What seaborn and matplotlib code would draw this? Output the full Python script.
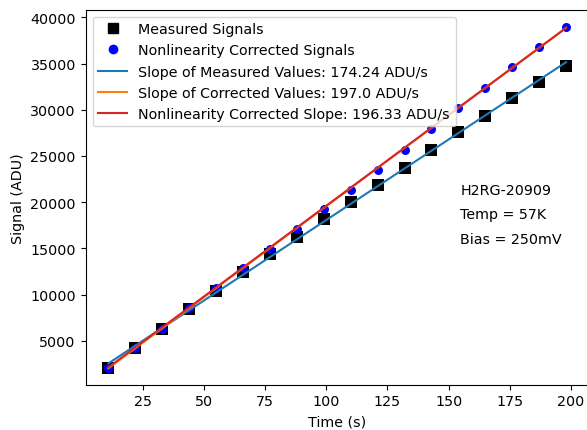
import numpy as np
import pandas as pd
import matplotlib
matplotlib.use("Agg")
import matplotlib.pyplot as plt
import seaborn as sns
from matplotlib.lines import Line2D

# Frame times (s)
times = [11, 22, 33, 44, 55, 66, 77, 88, 99, 110, 121, 132, 143, 154, 165, 176, 187, 198]

# Raw ramp signal (ADU)
measured = [2090, 4250, 6290, 8400, 10400, 12430, 14350, 16290, 18200, 20050,
            21890, 23700, 25630, 27560, 29370, 31280, 33020, 34710]

# Signal after nonlinearity correction (ADU)
corrected = [2100, 4270, 6330, 8530, 10700, 12860, 14980, 17120, 19250, 21350,
             23480, 25610, 27920, 30160, 32370, 34600, 36770, 38980]

# Linear fits: (slope ADU/s, intercept ADU)
fit_measured = (174.24, 650.0)
fit_corrected = (197.0, -130.0)
fit_nonlin = (196.33, -20.0)

info_lines = ["H2RG-20909", "Temp = 57K", "Bias = 250mV"]

plt.rcParams["font.size"] = 10.25

df = pd.DataFrame({"t": times, "measured": measured, "corrected": corrected})
t = np.array(times, dtype=float)
df["fit_meas"] = fit_measured[0] * t + fit_measured[1]
df["fit_corr"] = fit_corrected[0] * t + fit_corrected[1]
df["fit_nonlin"] = fit_nonlin[0] * t + fit_nonlin[1]

fig = plt.figure(figsize=(5.87, 4.31), dpi=100)
ax = fig.add_axes([0.1457, 0.105, 0.8577, 0.8706])

sns.scatterplot(data=df, x="t", y="measured", marker="s", color="black",
                s=64, linewidth=0, ax=ax, zorder=2)
sns.scatterplot(data=df, x="t", y="corrected", marker="o", color="blue",
                s=42, linewidth=0, ax=ax, zorder=3)
sns.lineplot(data=df, x="t", y="fit_meas", color="#1f77b4", lw=1.5, ax=ax, zorder=4)
sns.lineplot(data=df, x="t", y="fit_corr", color="#ff7f0e", lw=1.5, ax=ax, zorder=4)
sns.lineplot(data=df, x="t", y="fit_nonlin", color="#d62728", lw=1.5, ax=ax, zorder=5)

handles = [
    Line2D([], [], marker="s", color="black", ls="none", markersize=7),
    Line2D([], [], marker="o", color="blue", ls="none", markersize=6),
    Line2D([], [], color="#1f77b4", lw=1.5),
    Line2D([], [], color="#ff7f0e", lw=1.5),
    Line2D([], [], color="#d62728", lw=1.5),
]
labels = [
    "Measured Signals",
    "Nonlinearity Corrected Signals",
    f"Slope of Measured Values: {fit_measured[0]} ADU/s",
    f"Slope of Corrected Values: {fit_corrected[0]} ADU/s",
    f"Nonlinearity Corrected Slope: {fit_nonlin[0]} ADU/s",
]
ax.legend(handles, labels, loc="upper left")

for y, txt in zip([21270, 18710, 16000], info_lines):
    ax.text(154.7, y, txt, va="center", ha="left")

ax.set_xlim(1.65, 207.35)
ax.set_ylim(255, 40845)
ax.set_xticks([25, 50, 75, 100, 125, 150, 175, 200])
ax.set_yticks([5000, 10000, 15000, 20000, 25000, 30000, 35000, 40000])
ax.set_xlabel("Time (s)")
ax.set_ylabel("Signal (ADU)")

fig.savefig("out.png", dpi=100)
